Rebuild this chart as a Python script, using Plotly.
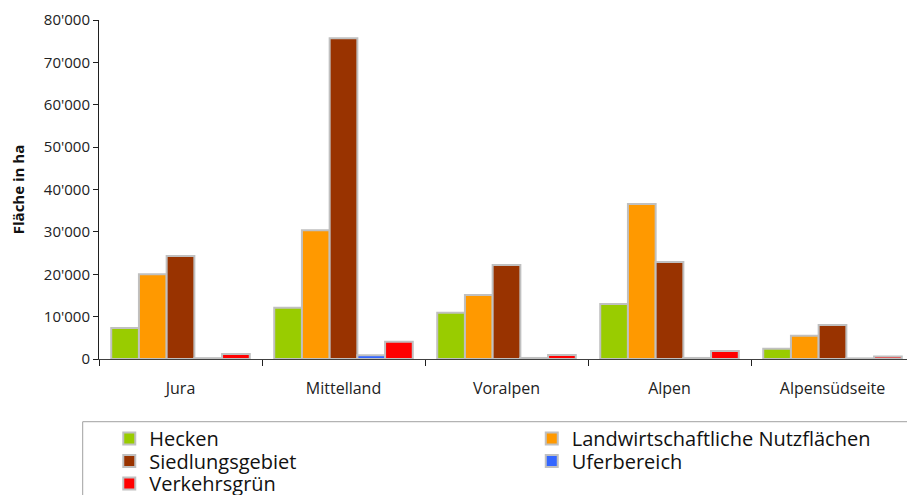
import plotly.graph_objects as go

regions = ["Jura", "Mittelland", "Voralpen", "Alpen", "Alpensüdseite"]
series_names = ["Hecken", "Landwirtschaftliche Nutzflächen", "Siedlungsgebiet", "Uferbereich", "Verkehrsgrün"]
hecken = [7300, 12100, 10900, 13000, 2400]
landwirtschaft = [20000, 30400, 15100, 36600, 5500]
siedlung = [24300, 75700, 22200, 22900, 8000]
ufer = [200, 900, 250, 250, 150]
verkehr = [1200, 4100, 950, 1900, 600]
colors = ["#99CC00", "#FF9900", "#993300", "#3366FF", "#FF0000"]
y_ticks = [0, 10000, 20000, 30000, 40000, 50000, 60000, 70000, 80000]

values = [hecken, landwirtschaft, siedlung, ufer, verkehr]
legend_ids = ["legend", "legend2", "legend3", "legend4", "legend5"]

fig = go.Figure()
for name, vals, col, lg in zip(series_names, values, colors, legend_ids):
    fig.add_trace(go.Bar(
        x=regions, y=vals, name=name, legend=lg,
        marker=dict(color=col, line=dict(color="#C0C0C0", width=2)),
    ))

font_family = "Open Sans, DejaVu Sans, sans-serif"
legend_font = dict(family=font_family, size=20, color="#111111")

# legend placement (paper coordinates): columns and rows
col_x = [0.0126, 0.531]
row_y = [-0.2345, -0.3009, -0.3673]
legend_pos = [(col_x[0], row_y[0]), (col_x[1], row_y[0]),
              (col_x[0], row_y[1]), (col_x[1], row_y[1]),
              (col_x[0], row_y[2])]

legend_layout = {}
for lg, (lx, ly) in zip(legend_ids, legend_pos):
    legend_layout[lg] = dict(
        x=lx, y=ly, xanchor="left", yanchor="middle",
        borderwidth=0, bgcolor="rgba(0,0,0,0)",
        font=legend_font, orientation="v",
    )

fig.update_layout(
    width=915, height=495,
    margin=dict(l=91, r=9, t=12, b=144, autoexpand=False),
    paper_bgcolor="white", plot_bgcolor="white",
    barmode="group", bargap=0.15, bargroupgap=0.0,
    separators=".'",
    font=dict(family=font_family, size=15, color="#222222"),
    showlegend=True,
    xaxis=dict(
        showline=True, linecolor="#404040", linewidth=1,
        ticks="outside", tickson="boundaries", ticklen=6, tickcolor="#202020",
        tickfont=dict(size=16, color="#222222"), ticklabelstandoff=15,
        showgrid=False, automargin=False,
    ),
    yaxis=dict(
        range=[0, 80000], tickvals=y_ticks, tickformat=",d",
        showline=True, linecolor="#202020", linewidth=1,
        ticks="outside", ticklen=5, tickcolor="#202020",
        showgrid=False, zeroline=False, automargin=False,
        tickfont=dict(size=15, color="#222222"),
        title=dict(text="<b>Fläche in ha</b>", font=dict(size=15, color="#111111"), standoff=15),
    ),
    shapes=[dict(type="rect", xref="paper", yref="paper",
                 x0=-0.02, x1=1.2, y0=-0.185, y1=-0.8,
                 line=dict(color="#A0A0A0", width=1), fillcolor="rgba(0,0,0,0)")],
    **legend_layout,
)

fig.write_html("out.html")
